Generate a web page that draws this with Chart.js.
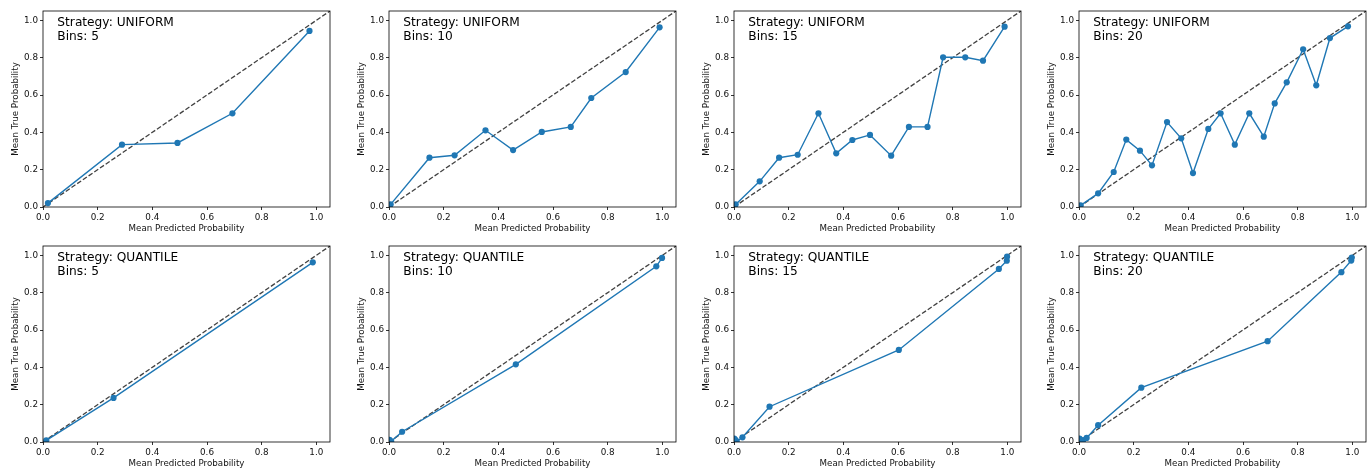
<!DOCTYPE html>
<html><head><meta charset="utf-8">
<script src="https://cdn.jsdelivr.net/npm/chart.js@4/dist/chart.umd.min.js"></script>
<style>
html,body{margin:0;padding:0;background:#fff;width:1367px;height:470px;overflow:hidden;position:relative}
canvas{position:absolute}
</style></head><body>
<script>
// ---- data ----
const strategies = ['UNIFORM', 'QUANTILE'];
const binCounts = [5, 10, 15, 20];
const tickValues = [0, 0.2, 0.4, 0.6, 0.8, 1.0];
const diagonal = [0, 1.05];

const predU5  = [0.018, 0.289, 0.492, 0.693, 0.975];
const trueU5  = [0.021, 0.334, 0.343, 0.502, 0.943];
const predU10 = [0.006, 0.148, 0.240, 0.353, 0.454, 0.559, 0.665, 0.740, 0.866, 0.990];
const trueU10 = [0.014, 0.264, 0.277, 0.411, 0.305, 0.402, 0.429, 0.584, 0.723, 0.9625];
const predU15 = [0.006, 0.094, 0.165, 0.233, 0.309, 0.374, 0.433, 0.4975, 0.575, 0.640, 0.708, 0.765, 0.846, 0.911, 0.99];
const trueU15 = [0.014, 0.1375, 0.264, 0.280, 0.502, 0.2875, 0.359, 0.386, 0.275, 0.429, 0.429, 0.802, 0.802, 0.784, 0.966];
const predU20 = [0.006, 0.070, 0.127, 0.173, 0.223, 0.267, 0.322, 0.374, 0.417, 0.473, 0.518, 0.570, 0.623, 0.676, 0.716, 0.760, 0.820, 0.868, 0.918, 0.984];
const trueU20 = [0.009, 0.073, 0.1875, 0.361, 0.302, 0.223, 0.455, 0.368, 0.182, 0.418, 0.502, 0.334, 0.502, 0.377, 0.555, 0.668, 0.845, 0.652, 0.905, 0.968];
const predQ5  = [0.012, 0.258, 0.987];
const trueQ5  = [0.009, 0.236, 0.9625];
const predQ10 = [0.002, 0.008, 0.048, 0.464, 0.978, 0.999];
const trueQ10 = [0.012, 0.004, 0.055, 0.416, 0.941, 0.986];
const predQ15 = [0.001, 0.005, 0.010, 0.031, 0.130, 0.603, 0.969, 0.998, 0.999];
const trueQ15 = [0.018, 0.012, 0.003, 0.025, 0.189, 0.493, 0.927, 0.971, 0.993];
const predQ20 = [0.002, 0.008, 0.015, 0.028, 0.070, 0.228, 0.690, 0.960, 0.996, 0.998];
const trueQ20 = [0.018, 0.005, 0.010, 0.022, 0.090, 0.291, 0.540, 0.910, 0.972, 0.988];

const seriesPred = [[predU5, predU10, predU15, predU20], [predQ5, predQ10, predQ15, predQ20]];
const seriesTrue = [[trueU5, trueU10, trueU15, trueU20], [trueQ5, trueQ10, trueQ15, trueQ20]];

// ---- layout ----
const canvasLefts = [0, 346, 691, 1036];
const canvasTops = [0, 235];
const CW = 345, CH = 235;

Chart.defaults.font.family = '"DejaVu Sans", sans-serif';
Chart.defaults.color = '#000';

const framePlugin = {
  id: 'frame',
  afterDatasetsDraw(chart, args, opts) {
    const {ctx, chartArea: a} = chart;
    ctx.save();
    ctx.strokeStyle = '#000';
    ctx.lineWidth = 0.8;
    ctx.strokeRect(a.left, a.top, a.right - a.left, a.bottom - a.top);
    ctx.fillStyle = '#000';
    ctx.font = '12.2px "DejaVu Sans"';
    ctx.textAlign = 'left';
    ctx.textBaseline = 'alphabetic';
    const x = a.left + 0.05 * (a.right - a.left);
    ctx.fillText(opts.line1, x, a.top + 15);
    ctx.fillText(opts.line2, x, a.top + 28.5);
    ctx.restore();
  }
};

function axisOpts(isX) {
  return {
    type: 'linear',
    min: 0, max: 1.05,
    afterBuildTicks: s => { s.ticks = tickValues.map(v => ({value: v})); },
    afterFit: s => { if (isX) s.height = 28; else s.width = 43; },
    grid: {display: true, drawOnChartArea: false, drawTicks: true, tickLength: 3, tickColor: '#000', lineWidth: 0.8},
    border: {display: false},
    ticks: {
      font: {size: 8.8}, color: '#111', padding: 2,
      maxRotation: 0, autoSkip: false,
      callback: v => Number(v).toFixed(1)
    },
    title: {
      display: true,
      text: isX ? 'Mean Predicted Probability' : 'Mean True Probability',
      font: {size: 8.7}, color: '#111',
      padding: isX ? {top: 0, bottom: 1} : {top: 10.5, bottom: 0}
    }
  };
}

strategies.forEach((strat, r) => {
  binCounts.forEach((nb, c) => {
    const cv = document.createElement('canvas');
    cv.width = CW; cv.height = CH;
    cv.style.left = canvasLefts[c] + 'px';
    cv.style.top = canvasTops[r] + 'px';
    cv.style.width = CW + 'px'; cv.style.height = CH + 'px';
    document.body.appendChild(cv);
    const px = seriesPred[r][c], py = seriesTrue[r][c];
    new Chart(cv, {
      type: 'scatter',
      data: {
        datasets: [
          {
            data: px.map((x, i) => ({x, y: py[i]})),
            showLine: true,
            borderColor: '#1f77b4', backgroundColor: '#1f77b4',
            borderWidth: 1.4, pointRadius: 3.1, pointBorderWidth: 0,
            pointHoverRadius: 3.1, order: 0, clip: 0
          },
          {
            data: diagonal.map(v => ({x: v, y: v})),
            showLine: true,
            borderColor: 'rgba(0,0,0,0.75)',
            borderWidth: 1.3, borderDash: [4.8, 2.1],
            pointRadius: 0, order: 1, clip: 0
          }
        ]
      },
      options: {
        responsive: false, animation: false, events: [],
        devicePixelRatio: window.devicePixelRatio || 1,
        layout: {padding: {top: 11, right: 15, left: 0, bottom: 0}},
        scales: {x: axisOpts(true), y: axisOpts(false)},
        plugins: {
          legend: {display: false}, tooltip: {enabled: false},
          frame: {line1: 'Strategy: ' + strat, line2: 'Bins: ' + nb}
        }
      },
      plugins: [framePlugin]
    });
  });
});
</script>
</body></html>
